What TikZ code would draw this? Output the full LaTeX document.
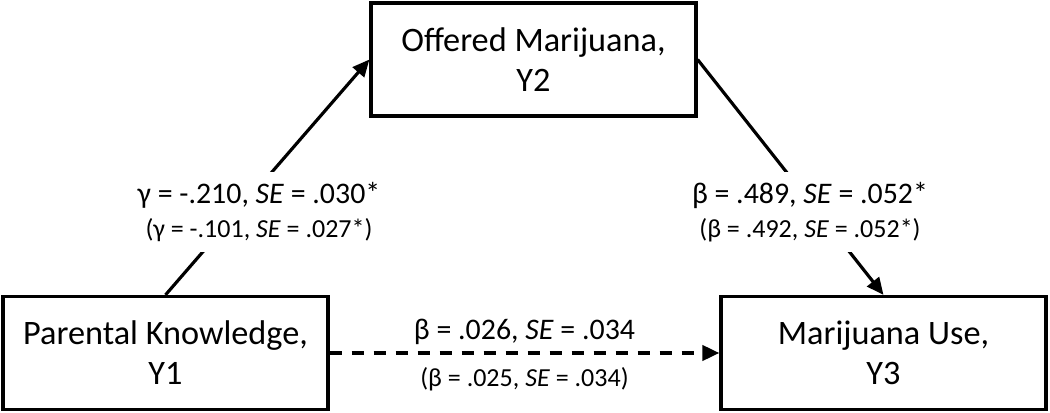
\documentclass[tikz,border=0pt]{standalone}
\usepackage{fontspec}
\setmainfont{Carlito}
\usetikzlibrary{arrows.meta,positioning}

\begin{document}
\begin{tikzpicture}[
    >={Triangle[length=0.34cm,width=0.3cm]},
    var/.style={rectangle,draw,line width=1.8pt,minimum width=6.5cm,
                minimum height=2.26cm,align=center,
                font=\fontsize{19.5}{22.7}\selectfont},
    arr/.style={->,line width=1.8pt},
    darr/.style={->,line width=2.2pt,dash pattern=on 0.25cm off 0.19cm},
    est/.style={fill=white,align=center,inner xsep=1pt,inner ysep=0.2cm,
                font=\fontsize{17}{19.4}\selectfont},
    sub/.style={font=\fontsize{14.8}{17}\selectfont,inner sep=0pt}
  ]
  \useasboundingbox (0,0) rectangle (21,-8.26);
  %% Variables
  \node[var] (Y2) at (10.67,-1.19) {Offered Marijuana,\\Y2};
  \node[var] (Y1) at (3.31,-7.06)  {Parental Knowledge,\\Y1};
  \node[var] (Y3) at (17.67,-7.06) {Marijuana Use,\\Y3};
  %% Paths
  \draw[arr] (Y1.north) -- (Y2.west);
  \draw[arr] (Y2.east) -- (Y3.north);
  \draw[darr] (Y1) --
    node[above=0.12cm,inner sep=0pt,font=\fontsize{17}{19.4}\selectfont]
      {β = .026, \textit{SE} = .034}
    node[below=0.26cm,sub] {(β = .025, \textit{SE} = .034)} (Y3);
  %% Estimates on the indirect paths
  \node[est] (a) at (5.18,-4.24)
    {γ = -.210, \textit{SE} = .030*\\{\fontsize{14.8}{17}\selectfont (γ = -.101, \textit{SE} = .027*)}};
  \node[est] (b) at (16.2,-4.24)
    {β = .489, \textit{SE} = .052*\\{\fontsize{14.8}{17}\selectfont (β = .492, \textit{SE} = .052*)}};
\end{tikzpicture}
\end{document}
